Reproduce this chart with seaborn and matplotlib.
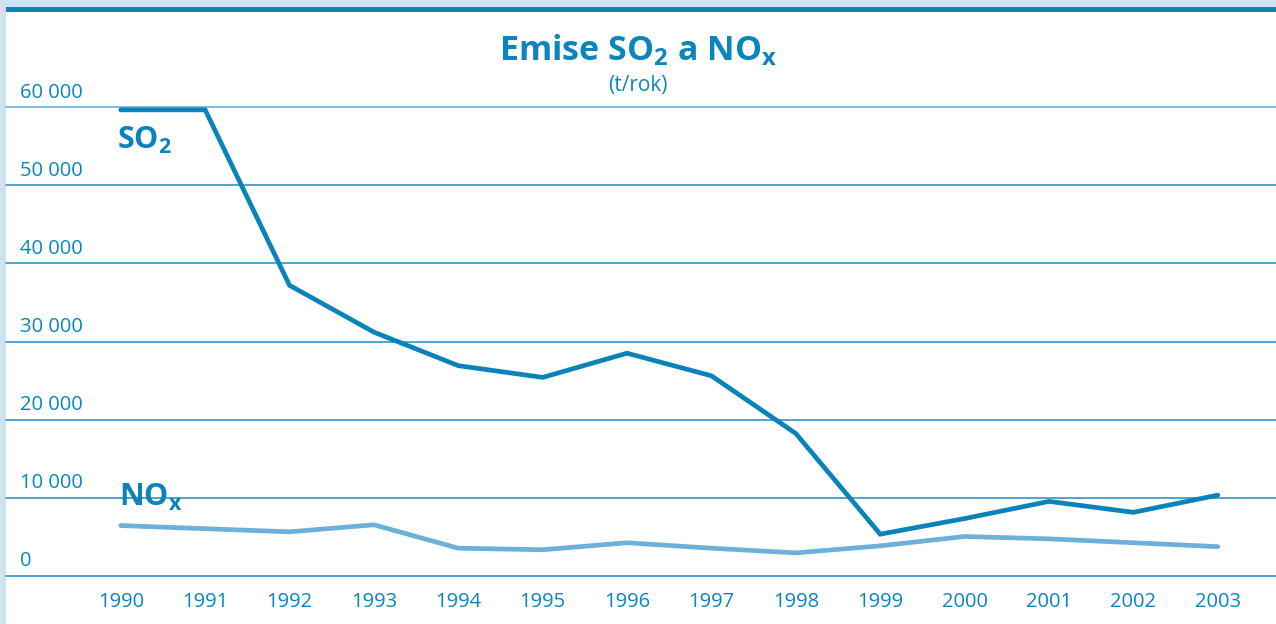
import matplotlib
matplotlib.use("Agg")
import matplotlib.pyplot as plt
import seaborn as sns
import pandas as pd
from matplotlib.patches import Rectangle
import matplotlib.transforms as mtransforms

years = [1990, 1991, 1992, 1993, 1994, 1995, 1996, 1997, 1998, 1999, 2000, 2001, 2002, 2003]
so2 = [59700, 59700, 37200, 31200, 26900, 25400, 28500, 25600, 18200, 5300, 7300, 9500, 8100, 10300]
nox = [6400, 6000, 5600, 6500, 3500, 3300, 4200, 3500, 2900, 3800, 5000, 4700, 4200, 3700]
y_ticks = [0, 10000, 20000, 30000, 40000, 50000, 60000]
y_tick_labels = ["0", "10 000", "20 000", "30 000", "40 000", "50 000", "60 000"]

sns.set_theme(style="white")
plt.rcParams["font.family"] = ["Open Sans", "DejaVu Sans"]
plt.rcParams["mathtext.fontset"] = "custom"
plt.rcParams["mathtext.rm"] = "Open Sans"
plt.rcParams["mathtext.bf"] = "Open Sans:bold"

DARK = "#0a82ba"
LIGHT = "#6cb1da"
TEXT = "#0a86bd"
GRID = "#1e8cc4"

W, H = 1276, 624
fig = plt.figure(figsize=(W / 100, H / 100), dpi=100)
fig.patch.set_facecolor("white")

# frame decorations
fig.add_artist(Rectangle((0, 0), 6 / W, 1, transform=fig.transFigure, facecolor="#cfe2f0",
                         edgecolor="none", zorder=0))
fig.add_artist(Rectangle((0, 1 - 6.5 / H), 1, 6.5 / H, transform=fig.transFigure,
                         facecolor="#cfe2f0", edgecolor="none", zorder=0))
fig.add_artist(Rectangle((6 / W, 1 - 12 / H), 1, 5.5 / H, transform=fig.transFigure,
                         facecolor=DARK, edgecolor="none", zorder=1))

ax = fig.add_axes([6 / W, 1 - 575.5 / H, (W - 6) / W, (575.5 - 107.5) / H])
ax.set_facecolor("none")

df = pd.DataFrame({"year": years, "SO2": so2, "NOx": nox})
sns.lineplot(data=df, x="year", y="NOx", ax=ax, color=LIGHT, linewidth=3.4,
             solid_capstyle="round", solid_joinstyle="miter", clip_on=False, zorder=3)
sns.lineplot(data=df, x="year", y="SO2", ax=ax, color=DARK, linewidth=3.4,
             solid_capstyle="round", solid_joinstyle="miter", clip_on=False, zorder=4)

ax.set_xlim(1988.64, 2003.69)
ax.set_ylim(0, 60000)
for s in ax.spines.values():
    s.set_visible(False)
ax.set_xlabel("")
ax.set_ylabel("")
ax.set_yticks([])
ax.set_xticks(years)
ax.set_xticklabels([str(y) for y in years], fontsize=14.5, color=TEXT)
ax.tick_params(axis="x", length=0, pad=12)

tr = mtransforms.blended_transform_factory(ax.transAxes, ax.transData)
tr = tr + mtransforms.ScaledTranslation(0, 4 / 100, fig.dpi_scale_trans)
for v, lab in zip(y_ticks, y_tick_labels):
    ax.axhline(v, color=("#5aaad6" if v == 60000 else GRID), linewidth=1.1, zorder=1,
               clip_on=False)
    ax.text(14 / (W - 6), v, lab, transform=tr, ha="left", va="bottom",
            fontsize=14.5, color=TEXT)

ax.text(1989.95, 55800, r"SO$_\mathbf{2}$", fontsize=22, fontweight="bold", color=DARK,
        ha="left", va="center")
ax.text(1989.98, 10000, r"NO$_\mathbf{x}$", fontsize=22, fontweight="bold", color=DARK,
        ha="left", va="center")

fig.text(0.5, 1 - 50 / H, r"Emise SO$_\mathbf{2}$ a NO$_\mathbf{x}$", ha="center", va="center",
         fontsize=24.5, fontweight="bold", color=TEXT)
fig.text(0.5, 1 - 85 / H, "(t/rok)", ha="center", va="center", fontsize=15, color=TEXT)

fig.savefig("out.png", dpi=100)
